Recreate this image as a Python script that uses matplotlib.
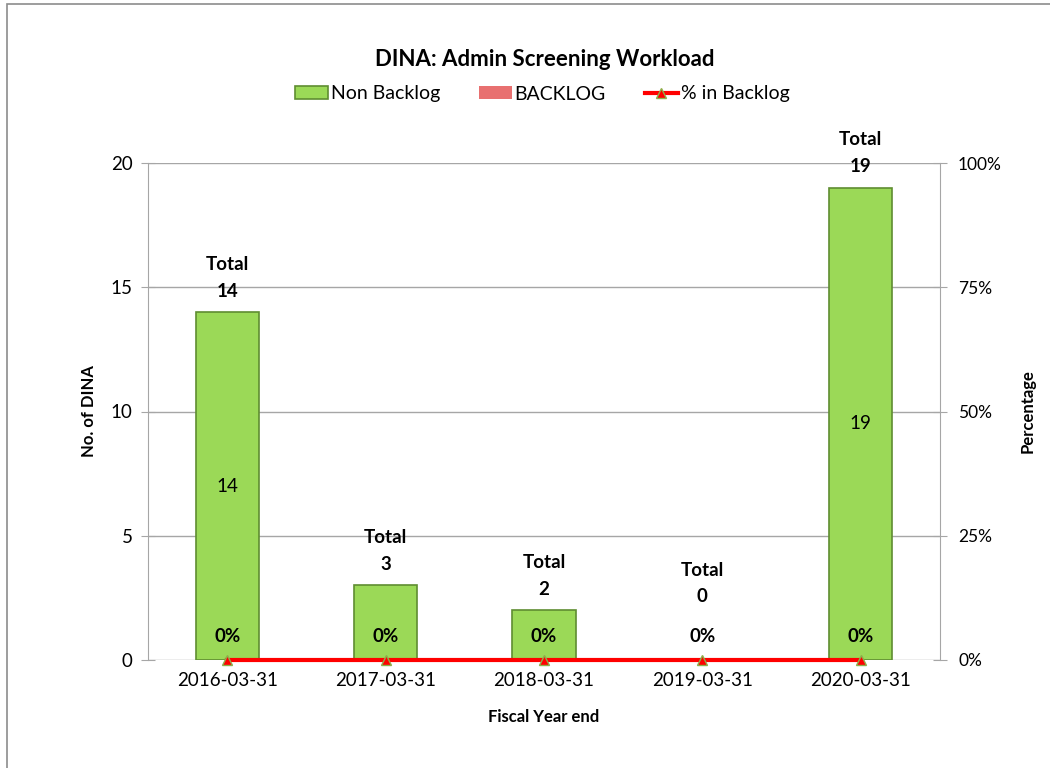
import matplotlib.pyplot as plt
from matplotlib.patches import Rectangle
from matplotlib.ticker import PercentFormatter

years = ['2016-03-31', '2017-03-31', '2018-03-31', '2019-03-31', '2020-03-31']
non_backlog = [14, 3, 2, 0, 19]
backlog = [0, 0, 0, 0, 0]
pct_backlog = [0, 0, 0, 0, 0]

plt.rcParams['font.family'] = ['Lato', 'DejaVu Sans']

fig = plt.figure(figsize=(10.5, 7.68), dpi=100)
ax = fig.add_axes([148 / 1050, 1 - 660 / 768, 792 / 1050, 497 / 768])

# outer chart frame (runs off the right and bottom edges)
fig.patches.append(Rectangle((7 / 1050, -0.1), 1.2, 1.1 - 4 / 768, transform=fig.transFigure,
                             fill=False, edgecolor='#8c8c8c', linewidth=1.2))

x = list(range(len(years)))
totals = [a + b for a, b in zip(non_backlog, backlog)]

bars_nb = ax.bar(x, non_backlog, width=0.4, color='#9bd957', edgecolor='#5f8d31',
                 linewidth=1.2, label='Non Backlog', zorder=3)
bars_b = ax.bar(x, backlog, bottom=non_backlog, width=0.4, color='#e87070',
                edgecolor='#b04848', linewidth=0, label='BACKLOG', zorder=3)

# value labels inside the green bars (small bars get none, as in the original)
for xi, v in zip(x, non_backlog):
    if v >= 5:
        ax.text(xi, v / 2, str(v), ha='center', va='center', fontsize=13.5, zorder=5)

# total labels above the bars
for xi, t in zip(x, totals):
    pad = 21 if t > 0 else 63
    ax.annotate(f'{t}', (xi, t), xytext=(0, pad * 0.72), textcoords='offset points',
                ha='center', va='center', fontsize=13.5, fontweight='bold', zorder=5)
    ax.annotate('Total', (xi, t), xytext=(0, (pad + 27) * 0.72), textcoords='offset points',
                ha='center', va='center', fontsize=13.5, fontweight='bold', zorder=5)

ax.set_xlim(-0.5, len(years) - 0.5)
ax.set_ylim(0, 20)
ax.set_yticks([0, 5, 10, 15, 20])
ax.set_xticks(x)
ax.set_xticklabels(years)
ax.grid(axis='y', color='#a6a6a6', linewidth=1, zorder=0)
ax.set_axisbelow(True)
for s in ['top', 'right', 'bottom']:
    ax.spines[s].set_visible(False)
ax.spines['left'].set_color('#a6a6a6')
ax.tick_params(axis='y', direction='inout', length=10, color='#a6a6a6', labelsize=13.5, pad=6)
ax.tick_params(axis='x', length=0, labelsize=13.5, pad=9)
ax.set_ylabel('No. of DINA', fontsize=12, fontweight='bold', labelpad=10)
ax.set_xlabel('Fiscal Year end', fontsize=12, fontweight='bold', labelpad=14)

ax2 = ax.twinx()
ax2.plot(x, pct_backlog, color='#ff0000', linewidth=3, marker='^', markersize=7,
         markerfacecolor='#ff0000', markeredgecolor='#8db04a', markeredgewidth=1,
         label='% in Backlog', clip_on=False, zorder=6)
ax2.set_ylim(0, 1)
ax2.set_yticks([0, 0.25, 0.5, 0.75, 1])
ax2.yaxis.set_major_formatter(PercentFormatter(1.0, decimals=0))
for s in ['top', 'left', 'bottom']:
    ax2.spines[s].set_visible(False)
ax2.spines['right'].set_color('#a6a6a6')
ax2.tick_params(axis='y', direction='inout', length=10, color='#a6a6a6', labelsize=12.5, pad=8)
ax2.set_ylabel('Percentage', fontsize=12, fontweight='bold', labelpad=13)

# percentage labels just above the line points
for xi, p in zip(x, pct_backlog):
    ax2.annotate(f'{p:.0%}', (xi, p), xytext=(0, 24 * 0.72), textcoords='offset points',
                 ha='center', va='center', fontsize=13.5, fontweight='bold', zorder=7)

fig.text(545 / 1050, 1 - 60 / 768, 'DINA: Admin Screening Workload', ha='center', va='center',
         fontsize=16, fontweight='bold')

handles = [bars_nb, bars_b] + ax2.get_lines()
fig.legend(handles, ['Non Backlog', 'BACKLOG', '% in Backlog'], loc='center',
           bbox_to_anchor=(542 / 1050, 1 - 94 / 768), ncol=3, frameon=False, fontsize=14,
           handlelength=1.7, handleheight=0.6, columnspacing=2.0, handletextpad=0.15)

fig.savefig('out.png', dpi=100)
